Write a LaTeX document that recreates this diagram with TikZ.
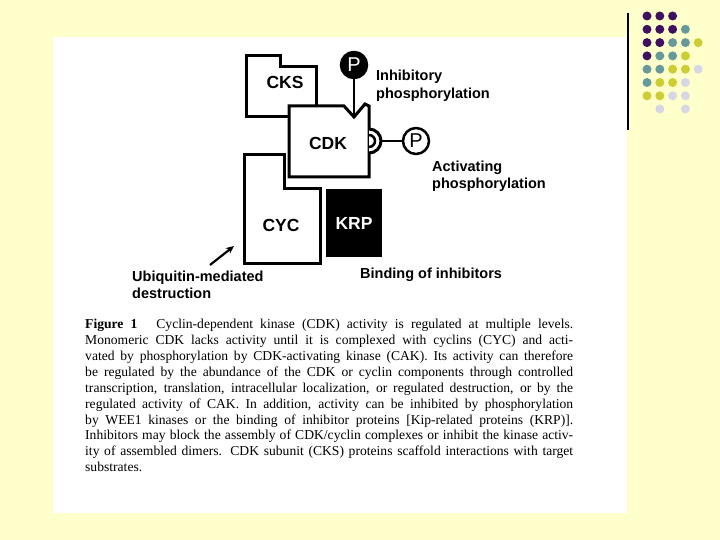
\documentclass[tikz,border=0pt]{standalone}
\usepackage{fontspec}
\setmainfont{Liberation Serif}
\setsansfont{Liberation Sans}
\usepackage{tikz}
\usetikzlibrary{arrows.meta,positioning}
\definecolor{slidebg}{RGB}{255,255,204}
\definecolor{dotP}{RGB}{64,16,96}
\definecolor{dotT}{RGB}{102,153,153}
\definecolor{dotY}{RGB}{204,204,51}
\definecolor{dotL}{RGB}{214,214,230}
\tikzset{
  mol/.style={draw, line width=3pt, fill=white, line join=miter},
  bond/.style={draw, line width=2.5pt},
  phos/.style={circle, draw, line width=2.5pt, fill=white, minimum size=26pt, inner sep=0pt,
               font=\sffamily\fontsize{20}{20}\selectfont},
  molname/.style={inner sep=0pt, font=\sffamily\bfseries\fontsize{17.5}{17.5}\selectfont},
  lbl/.style={inner sep=0pt, align=left, font=\sffamily\bfseries\fontsize{14.5}{17.5}\selectfont},
  capt/.style={inner sep=0pt, text width=488pt, align=justify, font=\fontsize{13.6}{15.9}\selectfont}
}
\newcommand{\capline}[1]{{\parfillskip=0pt #1\par}}

\begin{document}
\begin{tikzpicture}[x=1pt, y=-1pt]
\useasboundingbox (0,0) rectangle (720,540);
\fill[slidebg] (0,0) rectangle (720,540);
\fill[white] (53,37) rectangle (627,513);
% corner decoration
\draw[line width=1.2pt] (628,13) -- (628,130);
\foreach \r/\row in {1/{P,P,P},2/{P,P,P,T},3/{P,P,T,T,Y},4/{P,T,T,Y},5/{T,T,Y,Y,L},6/{T,Y,Y,L},7/{Y,Y,L,L}}
  \foreach \c [count=\i] in \row
    \fill[dot\c] ({647+12.8*(\i-1)},{16+13.3*(\r-1)}) circle[radius=4.5];
\fill[dotL] (659.8,109) circle[radius=4.5] (685.4,109) circle[radius=4.5];

% subunits
\draw[mol] (246,56) -- (280,56) -- (280,67) -- (316,67) -- (316,117) -- (246,117) -- cycle;
\draw[mol] (289,106) -- (344,106) -- (354,117) -- (365,104) -- (369,106) -- (369,177) -- (289,177) -- cycle;
\draw[mol] (369,129) arc[start angle=-90, end angle=90, radius=12];
\draw[line width=2.5pt] (369,135) arc[start angle=-90, end angle=90, radius=6];
\draw[mol] (244,155) -- (284,155) -- (284,189) -- (320,189) -- (320,263) -- (244,263) -- cycle;
\node[molname] (cks) at (285,82) {CKS};
\node[molname] (cdk) at (328,143) {CDK};
\node[molname] (cyc) at (281,225) {CYC};
\node[molname, fill=black, text=white, minimum width=56pt, minimum height=68pt] (krp) at (354,223) {KRP};

% phosphates
\node[phos, fill=black, text=white] (pinh) at (354,65) {P};
\node[phos] (pact) at (416,141) {P};
\coordinate (notch) at (354,116);
\coordinate (sock) at (381,141);
\draw[bond] (pinh) -- (notch);
\draw[bond] (sock) -- (pact);

% labels
\node[lbl, anchor=west] (inh) at (376,86) {Inhibitory\\phosphorylation};
\node[lbl, anchor=west] (act) at (432,176.5) {Activating\\phosphorylation};
\node[lbl, anchor=west] (bind) at (360,275) {Binding of inhibitors};
\node[lbl, anchor=west] (ubi) at (132,285) {Ubiquitin-mediated\\destruction};
\coordinate (ubitail) at (210,265);
\coordinate (ubihead) at (234,246);
\draw[line width=2.2pt, -{Stealth[length=8pt,width=7pt]}] (ubitail) -- (ubihead);

% caption
\node[capt, anchor=north west] (caption) at (85,319) {%
\tolerance=10000\pretolerance=10000\hyphenpenalty=10000\exhyphenpenalty=10000\parindent=0pt
\rightskip=0pt\spaceskip=0pt\xspaceskip=0pt
\capline{\textbf{Figure 1}\hspace{1.4em}Cyclin-dependent kinase (CDK) activity is regulated at multiple levels.}
\capline{Monomeric CDK lacks activity until it is complexed with cyclins (CYC) and acti-}
\capline{vated by phosphorylation by CDK-activating kinase (CAK). Its activity can therefore}
\capline{be regulated by the abundance of the CDK or cyclin components through controlled}
\capline{transcription, translation, intracellular localization, or regulated destruction, or by the}
\capline{regulated activity of CAK. In addition, activity can be inhibited by phosphorylation}
\capline{by WEE1 kinases or the binding of inhibitor proteins [Kip-related proteins (KRP)].}
\capline{Inhibitors may block the assembly of CDK/cyclin complexes or inhibit the kinase activ-}
\capline{ity of assembled dimers. CDK subunit (CKS) proteins scaffold interactions with target}
substrates.};
\end{tikzpicture}
\end{document}
